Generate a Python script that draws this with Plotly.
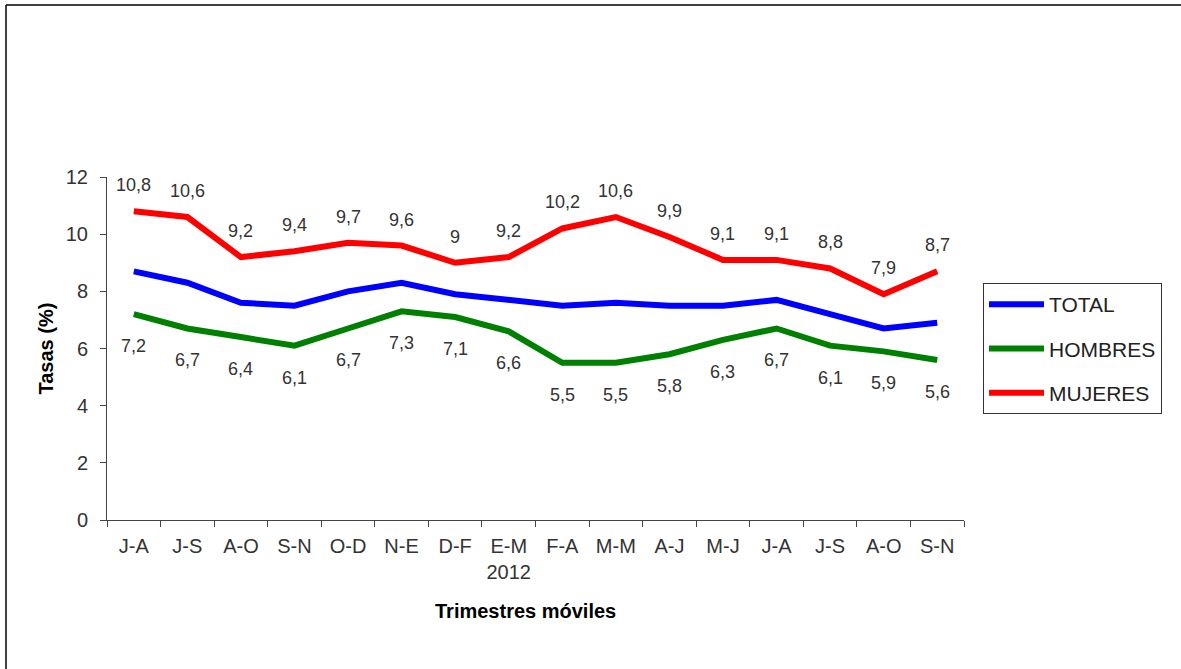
import plotly.graph_objects as go

categories = ["J-A", "J-S", "A-O", "S-N", "O-D", "N-E", "D-F", "E-M<br>2012",
              "F-A", "M-M", "A-J", "M-J", "J-A", "J-S", "A-O", "S-N"]
total = [8.7, 8.3, 7.6, 7.5, 8.0, 8.3, 7.9, 7.7, 7.5, 7.6, 7.5, 7.5, 7.7, 7.2, 6.7, 6.9]
hombres = [7.2, 6.7, 6.4, 6.1, 6.7, 7.3, 7.1, 6.6, 5.5, 5.5, 5.8, 6.3, 6.7, 6.1, 5.9, 5.6]
mujeres = [10.8, 10.6, 9.2, 9.4, 9.7, 9.6, 9.0, 9.2, 10.2, 10.6, 9.9, 9.1, 9.1, 8.8, 7.9, 8.7]

W, H = 1181, 669
L, R, T, B = 107, 217, 177, 149
x = list(range(len(categories)))

def fmt(v):
    s = ("%.1f" % v).replace(".", ",")
    return s[:-2] if s.endswith(",0") else s

fig = go.Figure()
series = [("TOTAL", total, "#0000FF"), ("HOMBRES", hombres, "#008000"), ("MUJERES", mujeres, "#FF0000")]
for i, (name, vals, col) in enumerate(series):
    fig.add_trace(go.Scatter(x=x, y=vals, mode="lines", name=name,
                             line=dict(color=col, width=6), legendgroup=name))

font = "Liberation Sans, Arial, sans-serif"
pw, ph = W - L - R, H - T - B
ann = []
for xi, v in zip(x, mujeres):
    ann.append(dict(x=xi, y=v, text=fmt(v), showarrow=False, yshift=26,
                    font=dict(family=font, size=18, color="#333333")))
for xi, v in zip(x, hombres):
    ann.append(dict(x=xi, y=v, text=fmt(v), showarrow=False, yshift=-32,
                    font=dict(family=font, size=18, color="#333333")))
ann.append(dict(xref="paper", yref="paper", x=(525 - L) / pw, y=(520 - 611) / ph,
                xanchor="center", yanchor="middle",
                text="<b>Trimestres móviles</b>", showarrow=False,
                font=dict(family=font, size=20, color="#000000")))
ann.append(dict(xref="paper", yref="paper", x=(45 - L) / pw, y=0.5, textangle=-90,
                xanchor="center", yanchor="middle",
                text="<b>Tasas (%)</b>", showarrow=False,
                font=dict(family=font, size=20, color="#000000")))

bx, by = (6 - L) / pw, (520 - 5) / ph
shapes = [
    dict(type="line", xref="paper", yref="paper", x0=bx, y0=by, x1=(W + 5 - L) / pw, y1=by,
         line=dict(color="#000000", width=1.5)),
    dict(type="line", xref="paper", yref="paper", x0=bx, y0=by, x1=bx, y1=(520 - H - 5) / ph,
         line=dict(color="#000000", width=1.5)),
]

fig.update_layout(
    width=W, height=H, margin=dict(l=L, r=R, t=T, b=B),
    paper_bgcolor="white", plot_bgcolor="white",
    font=dict(family=font, size=18, color="#333333"),
    annotations=ann, shapes=shapes,
    legend=dict(x=(983 - L) / pw, y=(520 - 283) / ph, xanchor="left", yanchor="top",
                bordercolor="#333333", borderwidth=1, bgcolor="white",
                font=dict(family=font, size=21, color="#222222"),
                traceorder="grouped", tracegroupgap=14, itemwidth=55),
    xaxis=dict(range=[-0.5, len(categories) - 0.5], tickvals=x, ticktext=categories,
               ticks="", showgrid=False, zeroline=False, showline=True,
               linecolor="#444444", linewidth=1, ticklabelstandoff=8,
               tickfont=dict(family=font, size=20, color="#333333")),
    xaxis2=dict(range=[-0.5, len(categories) - 0.5], overlaying="x", side="bottom",
                tickvals=[i - 0.5 for i in range(len(categories) + 1)], showticklabels=False,
                ticks="outside", ticklen=6, tickcolor="#444444", showgrid=False,
                zeroline=False, showline=False),
    yaxis=dict(range=[0, 12], dtick=2, ticks="outside", ticklen=6, tickcolor="#444444",
               showgrid=False, zeroline=False, showline=True, linecolor="#444444", linewidth=1,
               ticklabelstandoff=8,
               tickfont=dict(family=font, size=20, color="#333333")),
)
fig.add_trace(go.Scatter(x=[None], y=[None], xaxis="x2", showlegend=False, hoverinfo="skip"))

fig.write_html("out.html", config={"displayModeBar": False},
               post_script="document.body.style.margin='0';document.body.style.padding='0';")
